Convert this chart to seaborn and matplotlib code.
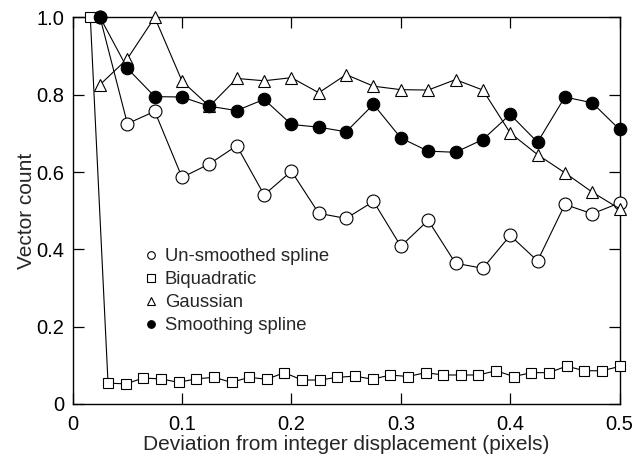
import numpy as np
import pandas as pd
import matplotlib
matplotlib.use("Agg")
import matplotlib.pyplot as plt
from matplotlib.lines import Line2D
import seaborn as sns

# ---- data ----
x_grid = [0.025, 0.05, 0.075, 0.1, 0.125, 0.15, 0.175, 0.2, 0.225, 0.25,
          0.275, 0.3, 0.325, 0.35, 0.375, 0.4, 0.425, 0.45, 0.475, 0.5]

unsmoothed = [1.0, 0.725, 0.757, 0.586, 0.621, 0.668, 0.541, 0.602, 0.493, 0.480,
              0.524, 0.408, 0.475, 0.364, 0.351, 0.436, 0.370, 0.516, 0.492, 0.520]

gaussian = [0.826, 0.893, 1.0, 0.835, 0.770, 0.842, 0.836, 0.844, 0.805, 0.852,
            0.822, 0.813, 0.812, 0.839, 0.812, 0.701, 0.645, 0.598, 0.548, 0.505]

smoothing = [1.0, 0.868, 0.795, 0.794, 0.770, 0.759, 0.788, 0.723, 0.716, 0.704,
             0.775, 0.688, 0.654, 0.651, 0.684, 0.749, 0.677, 0.794, 0.779, 0.710]

x_biquad = [0.0161, 0.0323, 0.0484, 0.0645, 0.0806, 0.0968, 0.1129, 0.1290,
            0.1452, 0.1613, 0.1774, 0.1935, 0.2097, 0.2258, 0.2419, 0.2581,
            0.2742, 0.2903, 0.3065, 0.3226, 0.3387, 0.3548, 0.3710, 0.3871,
            0.4032, 0.4194, 0.4355, 0.4516, 0.4677, 0.4839, 0.5]
biquadratic = [1.0, 0.054, 0.052, 0.067, 0.065, 0.056, 0.065, 0.069, 0.056, 0.069,
               0.064, 0.081, 0.062, 0.062, 0.069, 0.072, 0.064, 0.075, 0.071, 0.081,
               0.075, 0.075, 0.075, 0.086, 0.071, 0.081, 0.081, 0.098, 0.086, 0.086,
               0.097]

labels = ["Un-smoothed spline", "Biquadratic", "Gaussian", "Smoothing spline"]
x_ticks = [0, 0.1, 0.2, 0.3, 0.4, 0.5]
x_ticklabels = ["0", "0.1", "0.2", "0.3", "0.4", "0.5"]
y_ticks = [0, 0.2, 0.4, 0.6, 0.8, 1.0]
y_ticklabels = ["0", "0.2", "0.4", "0.6", "0.8", "1.0"]

# ---- plotting ----
sns.set_style("ticks")
plt.rcParams["font.family"] = ["Liberation Sans", "DejaVu Sans"]

fig = plt.figure(figsize=(6.35, 4.57), dpi=100)
ax = fig.add_axes([0.1145, 0.116, 0.8612, 0.846])

series = [
    (x_grid, unsmoothed, "o", "white", 9.3),
    (x_biquad, biquadratic, "s", "white", 7.8),
    (x_grid, gaussian, "^", "white", 8.3),
    (x_grid, smoothing, "o", "black", 9.0),
]
for (xs, ys, mk, fc, ms), lab in zip(series, labels):
    df = pd.DataFrame({"x": xs, "y": ys})
    sns.lineplot(data=df, x="x", y="y", ax=ax, color="black", linewidth=0.8,
                 marker=mk, markersize=ms, markerfacecolor=fc,
                 markeredgecolor="black", markeredgewidth=0.8,
                 sort=False, clip_on=False, zorder=3)

ax.set_xlim(0, 0.5)
ax.set_ylim(0, 1.0)
ax.set_xticks(x_ticks)
ax.set_xticklabels(x_ticklabels)
ax.set_yticks(y_ticks)
ax.set_yticklabels(y_ticklabels)
ax.tick_params(direction="in", length=8, width=0.9, labelsize=14.5,
               top=True, right=True, colors="black")
ax.tick_params(axis="x", pad=8)
ax.tick_params(axis="y", pad=6)
for sp in ax.spines.values():
    sp.set_visible(True)
    sp.set_linewidth(1.0)
    sp.set_color("black")

ax.set_xlabel("Deviation from integer displacement (pixels)", fontsize=15, labelpad=1)
ax.set_ylabel("Vector count", fontsize=15, labelpad=0)

handles = [
    Line2D([], [], linestyle="none", marker="o", markersize=5.5,
           markerfacecolor="white", markeredgecolor="black", markeredgewidth=0.8),
    Line2D([], [], linestyle="none", marker="s", markersize=5.5,
           markerfacecolor="white", markeredgecolor="black", markeredgewidth=0.8),
    Line2D([], [], linestyle="none", marker="^", markersize=5.5,
           markerfacecolor="white", markeredgecolor="black", markeredgewidth=0.8),
    Line2D([], [], linestyle="none", marker="o", markersize=5.5,
           markerfacecolor="black", markeredgecolor="black", markeredgewidth=0.8),
]
ax.legend(handles, labels, loc="upper left", bbox_to_anchor=(0.133, 0.403),
          frameon=False, fontsize=13.3, handlelength=0.6, handletextpad=0.45,
          labelspacing=0.33, borderaxespad=0, borderpad=0)

fig.savefig("out.png", dpi=100)
